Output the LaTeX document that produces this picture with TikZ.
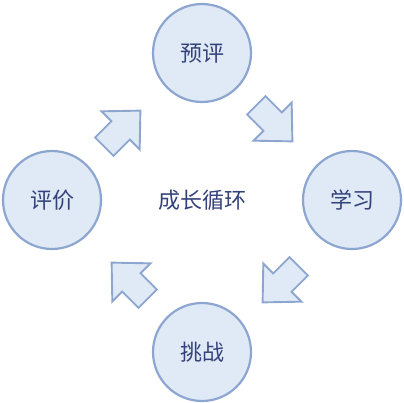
\documentclass[tikz,border=0pt]{standalone}
\usepackage{fontspec}
\newfontfamily\cjk{Noto Sans CJK SC}
\definecolor{cfill}{HTML}{E0E9F6}
\definecolor{cdraw}{HTML}{8DA6CF}
\definecolor{ctext}{HTML}{34427A}
\begin{document}
\begin{tikzpicture}[x=1pt,y=-1pt,
  stage/.style={circle,draw=cdraw,fill=cfill,line width=2.2pt,minimum size=98pt,inner sep=0pt,font=\cjk\fontsize{22}{26}\selectfont,text=ctext},
  blockarrow/.style={draw=cdraw,fill=cfill,line width=1.9pt,line join=miter}]
\useasboundingbox (0,0) rectangle (404,402);
\node[stage] (top) at (202,53) {预评};
\node[stage] (right) at (352,200) {学习};
\node[stage] (bottom) at (202,352) {挑战};
\node[stage] (left) at (52,200) {评价};
\node[font=\cjk\fontsize{22}{26}\selectfont,text=ctext] (center) at (202,200) {成长循环};
% block arrows: local shape, tail at -25, tip at +26 along x
\def\blockarrowshape{(-25,-13) -- (-2,-13) -- (-2,-27) -- (26,0) -- (-2,27) -- (-2,13) -- (-25,13) -- cycle}
\draw[blockarrow,shift={(274,123)},rotate=-45] \blockarrowshape;
\draw[blockarrow,shift={(281,284)},rotate=-135] \blockarrowshape;
\draw[blockarrow,shift={(130,281)},rotate=135] \blockarrowshape;
\draw[blockarrow,shift={(122,129)},rotate=45] \blockarrowshape;
\end{tikzpicture}
\end{document}
